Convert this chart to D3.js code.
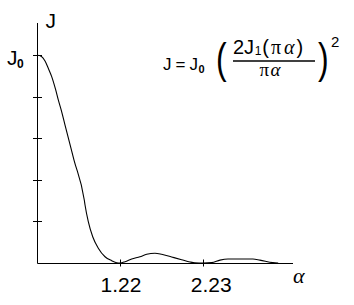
<!DOCTYPE html>
<html><head><meta charset="utf-8">
<script src="https://cdn.jsdelivr.net/npm/d3@7"></script>
<style>
html,body{margin:0;padding:0;background:#fff;}
svg{display:block;}
text{font-family:"Liberation Sans",Arial,sans-serif;fill:#000;}
text.serif{font-family:"Liberation Serif","Times New Roman",serif;}
</style></head>
<body>
<script>
// ---- data ----
const alpha = [0, 0.066, 0.118, 0.166, 0.216, 0.275, 0.313, 0.363, 0.412, 0.544, 0.695, 0.706, 0.754, 0.819, 0.901, 1.0, 1.098, 1.172, 1.22, 1.281, 1.362, 1.462, 1.544, 1.644, 1.725, 1.846, 1.967, 2.068, 2.128, 2.23, 2.332, 2.433, 2.53, 2.676, 2.833, 2.918, 3.075, 3.14];
const intensity = [1.0, 0.993, 0.971, 0.936, 0.896, 0.832, 0.784, 0.727, 0.663, 0.495, 0.303, 0.279, 0.199, 0.126, 0.071, 0.030, 0.011, 0.001, 0, 0.006, 0.019, 0.030, 0.042, 0.047, 0.042, 0.029, 0.016, 0.005, 0.001, 0, 0.002, 0.014, 0.019, 0.019, 0.019, 0.014, 0.002, 0];
const xTickValues = [1.22, 2.23];
const xTickLabels = ["1.22", "2.23"];
const yTickValues = [0.2, 0.4, 0.6, 0.8, 1.0];
const xDomain = [0, 1.22, 2.23, 3.32];
const yMax = 1.154;

const W = 354, H = 305;
const svg = d3.select("body").append("svg").attr("width", W).attr("height", H);

const x = d3.scaleLinear().domain(xDomain).range([37, 120, 203.3, 293]);
const y = d3.scaleLinear().domain([0, yMax]).range([263, 23]);

const X0 = Math.round(x(0)) + 0.5, Y0 = Math.round(y(0)) + 0.5;

// axes lines
svg.append("line").attr("x1", X0).attr("x2", X0).attr("y1", y(yMax)).attr("y2", Y0)
  .attr("stroke", "#000").attr("stroke-width", 1);
svg.append("line").attr("x1", X0).attr("x2", x(xDomain[3])).attr("y1", Y0).attr("y2", Y0)
  .attr("stroke", "#000").attr("stroke-width", 1);

// y ticks (cross)
svg.selectAll(".yt").data(yTickValues).enter().append("line")
  .attr("x1", X0 - 4.5).attr("x2", X0 + 4.5)
  .attr("y1", d => Math.round(y(d)) + 0.5).attr("y2", d => Math.round(y(d)) + 0.5)
  .attr("stroke", "#000");

// x ticks (cross)
svg.selectAll(".xt").data(xTickValues).enter().append("line")
  .attr("x1", d => Math.round(x(d)) + 0.5).attr("x2", d => Math.round(x(d)) + 0.5)
  .attr("y1", Y0 - 4).attr("y2", Y0 + 3)
  .attr("stroke", "#000");

// x tick labels
svg.selectAll(".xl").data(xTickValues).enter().append("text")
  .attr("x", d => x(d) + 1).attr("dx", (d, i) => i === 1 ? 7 : 0).attr("y", 291.5)
  .attr("text-anchor", "middle").attr("font-size", 21)
  .text((d, i) => xTickLabels[i]);

// curve
const line = d3.line().x((d, i) => x(alpha[i])).y((d, i) => y(intensity[i])).curve(d3.curveMonotoneX);
svg.append("path").datum(alpha).attr("d", line)
  .attr("fill", "none").attr("stroke", "#000").attr("stroke-width", 1.1);

// axis titles
svg.append("text").attr("x", X0 + 8).attr("y", 28).attr("font-size", 21).text("J");
svg.append("text").attr("x", 7).attr("y", y(1) + 10).attr("font-size", 21).text("J");
svg.append("text").attr("x", 17).attr("y", y(1) + 13).attr("font-size", 12).attr("font-weight", "bold").text("0");
svg.append("text").attr("class", "serif").attr("x", 293).attr("y", 283)
  .attr("font-size", 22).attr("font-style", "italic").text("α");

// formula: chain pieces left to right
function chain(x0, parts) {
  let cx = x0;
  parts.forEach(p => {
    const t = svg.append("text").attr("x", cx).attr("y", p.y).attr("font-size", p.size).text(p.t);
    if (p.serif) t.attr("class", "serif");
    if (p.bold) t.attr("font-weight", "bold");
    if (p.italic) t.attr("font-style", "italic");
    cx += t.node().getComputedTextLength() + (p.gap || 0);
  });
  return cx;
}
chain(163, [
  {t: "J", y: 70, size: 17, gap: 4},
  {t: "=", y: 70, size: 17, gap: 4},
  {t: "J", y: 70, size: 17, gap: 0.5},
  {t: "0", y: 73, size: 11, bold: true}
]);

svg.append("text").attr("x", 216).attr("y", 73).attr("font-size", 32)
  .attr("transform", "translate(216,73) scale(1,1.3) translate(-216,-73)").text("(");
svg.append("text").attr("x", 318).attr("y", 73).attr("font-size", 32)
  .attr("transform", "translate(318,73) scale(1,1.3) translate(-318,-73)").text(")");

chain(233, [
  {t: "2J", y: 54, size: 20, gap: 0.5},
  {t: "1", y: 55, size: 12, gap: 1},
  {t: "(", y: 54, size: 20, gap: 2},
  {t: "π", y: 54, size: 20, serif: true, gap: 3},
  {t: "α", y: 54, size: 20, serif: true, italic: true, gap: 2},
  {t: ")", y: 54, size: 20}
]);
svg.append("line").attr("x1", 233).attr("x2", 315).attr("y1", 61).attr("y2", 61)
  .attr("stroke", "#000").attr("stroke-width", 1.5);
const den = svg.append("text").attr("class", "serif").attr("x", 270).attr("y", 76).attr("font-size", 19)
  .attr("text-anchor", "middle");
den.append("tspan").text("π");
den.append("tspan").attr("font-style", "italic").attr("dx", 1.5).text("α");
svg.append("text").attr("x", 331).attr("y", 47).attr("font-size", 15).text("2");
</script>
</body></html>
